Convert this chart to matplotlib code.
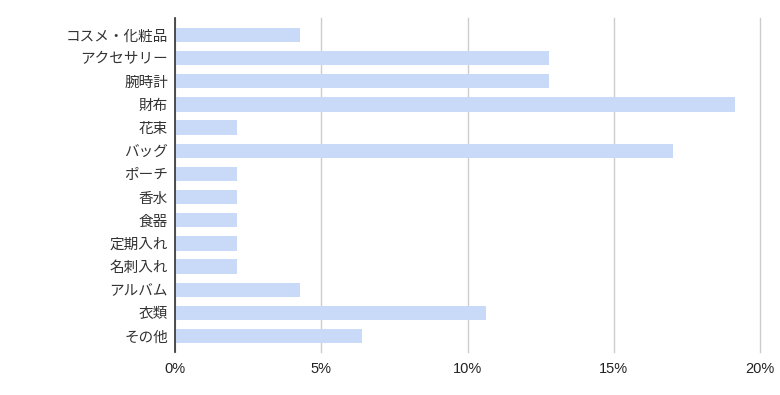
import matplotlib
matplotlib.use("Agg")
import matplotlib.pyplot as plt
from matplotlib.ticker import FuncFormatter

plt.rcParams['font.family'] = ['Noto Sans CJK JP', 'DejaVu Sans']

categories = ["コスメ・化粧品", "アクセサリー", "腕時計", "財布", "花束", "バッグ",
              "ポーチ", "香水", "食器", "定期入れ", "名刺入れ", "アルバム", "衣類", "その他"]
values = [4.26, 12.77, 12.77, 19.15, 2.13, 17.02, 2.13, 2.13, 2.13, 2.13, 2.13, 4.26, 10.64, 6.38]
xticks = [0, 5, 10, 15, 20]

fig = plt.figure(figsize=(7.8, 3.95), dpi=100)
ax = fig.add_axes([175/780, 1-352/395, 585/780, (352-18)/395])

pos = list(range(len(categories)))
ax.barh(pos, values, height=0.62, color="#c9daf8", zorder=2)

ax.set_ylim(len(categories) - 1 + 0.69, -0.73)
ax.set_xlim(0, 20)
ax.set_xticks(xticks)
ax.xaxis.set_major_formatter(FuncFormatter(lambda v, p: f"{int(v)}%"))
ax.set_yticks(pos)
ax.set_yticklabels(categories)

ax.grid(axis='x', color="#cccccc", linewidth=1, zorder=0)
for gl in ax.get_xgridlines():
    gl.set_clip_on(False)
for s in ['top', 'right', 'bottom']:
    ax.spines[s].set_visible(False)
ax.spines['left'].set_color("#333333")
ax.spines['left'].set_linewidth(1.2)
ax.spines['left'].set_zorder(3)

ax.tick_params(axis='y', length=0, pad=5, labelsize=10.5, labelcolor="#333333")
ax.tick_params(axis='x', length=0, pad=7, labelsize=10, labelcolor="#222222")
for lbl in ax.get_xticklabels():
    lbl.set_family(['Liberation Sans', 'DejaVu Sans'])
    lbl.set_fontsize(10.5)

fig.savefig("out.png", dpi=100, facecolor="white")
